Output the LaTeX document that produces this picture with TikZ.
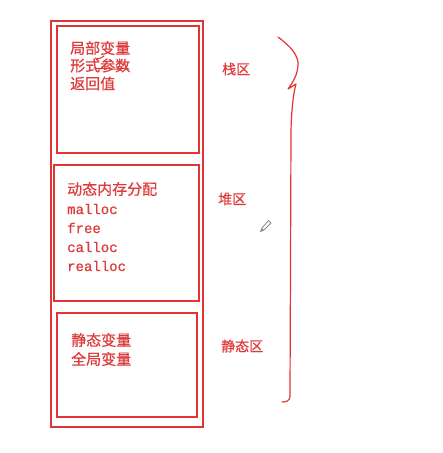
\documentclass[tikz,border=0pt]{standalone}
\usepackage{fontspec}
\newfontfamily\cjk[FakeBold=0.6]{Noto Sans CJK SC}
\newfontfamily\monofont[FakeBold=0.8]{Liberation Mono}
\definecolor{redline}{RGB}{226,52,52}
\definecolor{redtext}{RGB}{222,60,60}
\definecolor{pencil}{RGB}{140,140,140}
\begin{document}
\begin{tikzpicture}[x=1pt,y=-1pt,
  box/.style={draw=redline,line width=1.6pt,inner sep=0pt},
  cjktext/.style={anchor=west,inner sep=0pt,text=redtext,font=\cjk\fontsize{15pt}{15pt}\selectfont},
  monotext/.style={anchor=west,inner sep=0pt,text=redtext,font=\monofont\fontsize{14pt}{14pt}\selectfont},
  label/.style={anchor=west,inner sep=0pt,text=redtext,font=\cjk\fontsize{14pt}{14pt}\selectfont},
  hand/.style={draw=redline,line width=1.2pt,line cap=round,line join=round}]
\useasboundingbox[fill=white] (0,0) rectangle (443,453);
% boxes
\node[box,minimum width=152pt,minimum height=406pt] (outer) at (127,224) {};
\node[box,minimum width=142pt,minimum height=127pt] (stack) at (128,89.5) {};
\node[box,minimum width=145pt,minimum height=136pt] (heap) at (126.5,233) {};
\node[box,minimum width=140pt,minimum height=104pt] (static) at (127,365) {};
% stack text
\node[cjktext] (s1) at (70,48) {局部变量};
\node[cjktext] (s2) at (70,65.5) {形式参数};
\node[cjktext] (s3) at (70,83.5) {返回值};
% handwritten underlines
\draw[hand,line width=1pt] (95,58) .. controls (98,60) and (101,58) .. (104,56);
\draw[hand,line width=1pt] (94,68) .. controls (100,70) and (106,67) .. (112,69) .. controls (118,70) and (124,67) .. (129,69);
% heap text
\node[cjktext] (h0) at (67,189) {动态内存分配};
\node[monotext] (h1) at (67,209) {malloc};
\node[monotext] (h2) at (67,228) {free};
\node[monotext] (h3) at (67,247) {calloc};
\node[monotext] (h4) at (67,266) {realloc};
% static text
\node[cjktext] (t1) at (71,340) {静态变量};
\node[cjktext] (t2) at (71,359) {全局变量};
% labels
\node[label] (lstack) at (222,69) {栈区};
\node[label] (lheap) at (218,199) {堆区};
\node[label] (lstatic) at (221,346) {静态区};
% brace
\coordinate (btop) at (278,37);
\coordinate (bbot) at (282,402);
\draw[hand] (btop) .. controls (290,46) and (299,55) .. (298,66)
  .. controls (297,76) and (293,82) .. (288,89) -- (296,84)
  .. controls (293,95) and (291,115) .. (291,135) -- (290,396)
  .. controls (290,401) and (286,402) .. (bbot);
% pencil cursor (tip lower-left)
\draw[pencil,line width=0.8pt,fill=white,line join=round]
  (268.5,220.5) -- (271,223) -- (264,230) -- (260.5,231.5) -- (262,228) -- cycle;
\fill[pencil] (262,228) -- (264,230) -- (260.5,231.5) -- cycle;
\end{tikzpicture}
\end{document}
